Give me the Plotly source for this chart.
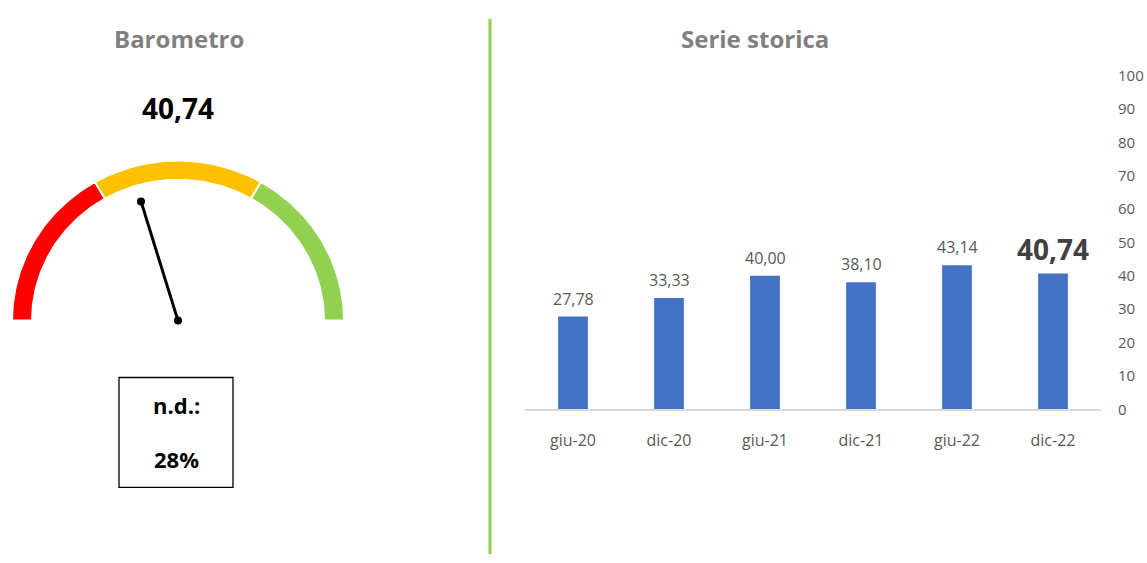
import numpy as np
import plotly.graph_objects as go

# ---------------- data ----------------
periods = ["giu-20", "dic-20", "giu-21", "dic-21", "giu-22", "dic-22"]
values = [27.78, 33.33, 40.00, 38.10, 43.14, 40.74]
value_labels = ["27,78", "33,33", "40,00", "38,10", "43,14", "40,74"]
y_ticks = [0, 10, 20, 30, 40, 50, 60, 70, 80, 90, 100]

gauge_value = 40.74
gauge_label = "40,74"
gauge_bands = [0, 33.33, 66.67, 100]
band_colors = ["#FF0000", "#FFC000", "#92D050"]
nd_label = "n.d.:"
nd_value = "28%"

W, H = 1147, 563
FONT = "Open Sans"

fig = go.Figure()

# ---------------- gauge (axes x2/y2 in pixel units, centre at 0,0) ----------------
R_OUT, R_IN = 166, 146


def ang(v):
    return np.pi * (1 - v / 100.0)


for i in range(3):
    a0, a1 = ang(gauge_bands[i]), ang(gauge_bands[i + 1])
    t = np.linspace(a0, a1, 80)
    xs = np.concatenate([R_OUT * np.cos(t), R_IN * np.cos(t[::-1])])
    ys = np.concatenate([R_OUT * np.sin(t), R_IN * np.sin(t[::-1])])
    xs = np.append(xs, xs[0])
    ys = np.append(ys, ys[0])
    fig.add_trace(go.Scatter(x=xs, y=ys, fill="toself", fillcolor=band_colors[i],
                             mode="lines", line=dict(color="white", width=2),
                             xaxis="x2", yaxis="y2", hoverinfo="skip", showlegend=False))

L = 129
th = ang(gauge_value)
fig.add_trace(go.Scatter(x=[0, L * np.cos(th)], y=[0, L * np.sin(th)],
                         mode="lines+markers", line=dict(color="black", width=3),
                         marker=dict(color="black", size=8),
                         xaxis="x2", yaxis="y2", hoverinfo="skip", showlegend=False))

# ---------------- bar chart ----------------
fig.add_trace(go.Bar(x=periods, y=values, marker=dict(color="#4472C4", line=dict(width=0)),
                     width=0.31, xaxis="x", yaxis="y", showlegend=False, hoverinfo="x+y"))

annotations = []
for i, (p, v, lab) in enumerate(zip(periods, values, value_labels)):
    last = i == len(periods) - 1
    annotations.append(dict(
        x=p, y=v, xref="x", yref="y", showarrow=False,
        text=f"<b>{lab}</b>" if last else lab,
        font=dict(family=FONT, size=28 if last else 16, color="#404040" if last else "#595959"),
        yshift=24 if last else 18, yanchor="middle"))

# titles and texts
annotations += [
    dict(x=1, y=321 - 28, xref="x2", yref="y2", text="<b>Barometro</b>", showarrow=False,
         font=dict(family=FONT, size=24, color="#808080"), yanchor="middle"),
    dict(x=831 / W, y=1 - 28 / H, xref="paper", yref="paper", text="<b>Serie storica</b>",
         showarrow=False, font=dict(family=FONT, size=24, color="#808080"), yanchor="middle"),
    dict(x=0, y=321 - 101, xref="x2", yref="y2", text=f"<b>{gauge_label}</b>", showarrow=False,
         font=dict(family=FONT, size=28, color="black"), yanchor="middle"),
    dict(x=-2, y=321 - 409, xref="x2", yref="y2", text=f"<b>{nd_label}</b>", showarrow=False,
         font=dict(family=FONT, size=22, color="black"), yanchor="middle"),
    dict(x=-2, y=321 - 465, xref="x2", yref="y2", text=f"<b>{nd_value}</b>", showarrow=False,
         font=dict(family=FONT, size=22, color="black"), yanchor="middle"),
]

shapes = [
    dict(type="rect", xref="x2", yref="y2", x0=119 - 178, x1=233 - 178, y0=321 - 380, y1=321 - 494,
         line=dict(color="black", width=1.3), fillcolor="rgba(0,0,0,0)"),
    dict(type="line", xref="paper", yref="paper", x0=490 / W, x1=490 / W, y0=0, y1=1 - 8 / H,
         line=dict(color="#92D050", width=3)),
]

fig.update_layout(
    width=W, height=H,
    margin=dict(l=0, r=0, t=0, b=0),
    paper_bgcolor="white", plot_bgcolor="rgba(0,0,0,0)",
    font=dict(family=FONT, color="#595959"),
    annotations=annotations, shapes=shapes,
    xaxis=dict(domain=[525 / W, 1101 / W], anchor="y", showline=True, linecolor="#D9D9D9",
               linewidth=2, showgrid=False, zeroline=False, ticks="",
               tickfont=dict(family=FONT, size=16, color="#595959"), ticklabelstandoff=15,
               fixedrange=True),
    yaxis=dict(domain=[(H - 413) / H, (H - 67) / H], anchor="x", side="right", range=[0, 100],
               tickvals=y_ticks, showgrid=False, zeroline=False, showline=False, ticks="",
               tickfont=dict(family=FONT, size=15, color="#595959"), ticklabelstandoff=16,
               fixedrange=True),
    xaxis2=dict(domain=[0, 360 / W], range=[-178, 182], anchor="y2", visible=False, fixedrange=True),
    yaxis2=dict(domain=[0, 1], range=[321 - H, 321], anchor="x2", visible=False, fixedrange=True),
    bargap=0.69,
)

fig.write_html("out.html", config={"displayModeBar": False},
               post_script="document.body.style.margin='0px';document.body.style.overflow='hidden';")
